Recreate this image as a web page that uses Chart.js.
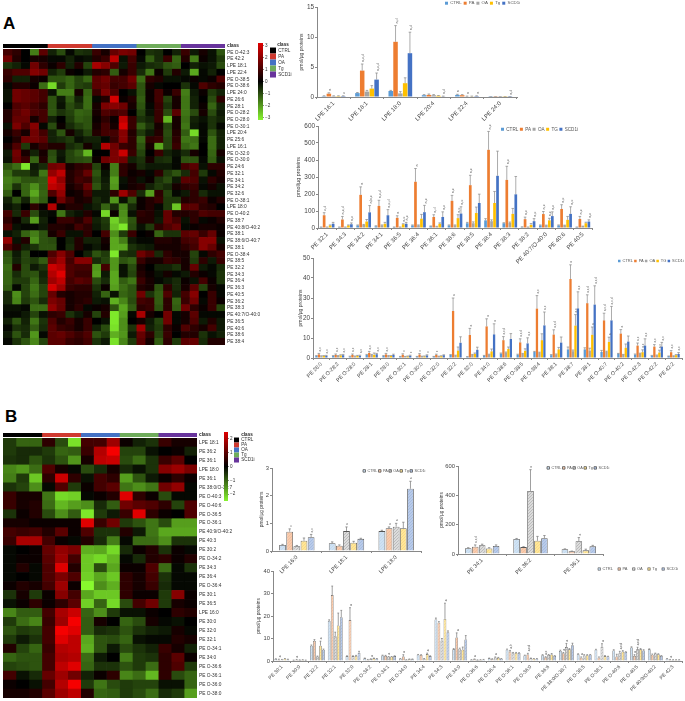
<!DOCTYPE html>
<html>
<head>
<meta charset="utf-8">
<title>Lipid panels</title>
<script src="https://cdn.jsdelivr.net/npm/chart.js@4/dist/chart.umd.min.js"></script>
<style>
    html, body { margin: 0; padding: 0; background: #fff; }
    #page { position: relative; width: 685px; height: 701px; overflow: hidden; }
    #page canvas { position: absolute; }
    .letter { position: absolute; font: bold 17px "Liberation Sans", sans-serif; color: #000; }
</style>
</head>
<body>
<div id="page">
    <div class="letter" style="left:3px;top:14px">A</div>
    <div class="letter" style="left:5px;top:407px">B</div>
</div>
<script>
// class names
const classNames = ["CTRL", "PA", "OA", "Tg", "SCD1i"];
const classNamesUpper = ["CTRL", "PA", "OA", "TG", "SCD1i"];
const heatAClassSizes = [5, 5, 5, 5, 5];
const heatBClassSizes = [3, 3, 3, 3, 3];
const heatAScaleTicks = [3, 2, 1, 0, -1, -2, -3];
const heatBScaleTicks = [2, 1, 0, -1, -2];

// Heatmap A
const heatALabels = ["PE O-42:3", "PE 42:2", "LPE 18:1", "LPE 22:4", "PE O-38:5", "PE O-38:6", "LPE 24:0", "PE 26:6", "PE 28:1", "PE O-28:2", "PE O-28:0", "PE O-30:1", "LPE 20:4", "PE 25:6", "LPE 16:1", "PE O-32:0", "PE O-30:0", "PE 24:6", "PE 32:1", "PE 34:1", "PE 34:2", "PE 32:6", "PE O-38:1", "LPE 18:0", "PE O-40:2", "PE 38:7", "PE 40:8/O-40:2", "PE 38:1", "PE 38:6/O-40:7", "PE 38:1", "PE O-38:4", "PE 38:5", "PE 32:2", "PE 34:3", "PE 36:4", "PE 36:3", "PE 40:5", "PE 36:2", "PE 38:3", "PE 40:7/O-40:0", "PE 36:5", "PE 40:6", "PE 38:6", "PE 38:4"];
const heatARows = [
    [.6,.4,0,-1.5,.8,-.4,-.9,-.1,-.6,-.5,.5,.2,.9,1.1,1,0,-.6,-.5,0,-.4,.5,-.3,.2,-.2,-1],
    [1,.3,0,.2,.2,-.1,-.1,-.4,-.1,-.2,.3,.5,1.7,-.2,.6,-.1,-1.1,-.5,.5,-1.2,.3,-1.5,.1,-.2,-.7],
    [-.6,-.4,-.1,1,.4,.1,.4,-.4,.3,-.8,1.5,1.2,.7,-.3,.5,-.3,-.5,-.6,-1,-1.1,0,-.4,-.2,-.3,-.9],
    [.5,.7,.7,1.2,1,-.4,-.7,.1,0,-.3,.3,.4,-1.1,.2,.5,-.5,-1.4,.1,-.7,.3,-.3,-2,-.1,-.4,0],
    [.4,-.4,-.4,.2,.1,-1,-1,-1.2,-.8,-1.2,.8,1,.6,.6,1,-1.3,.4,.3,-.2,-.2,-.1,.1,-.1,.1,.7],
    [-.1,.3,.3,.1,-1.3,-2.6,-.7,-1.2,-.8,-.7,.8,.9,.5,.6,.8,-1,.2,-.1,0,0,-.6,-.1,.7,.4,.3],
    [-.2,1,.9,.8,.6,-.2,-1.5,-1.5,.2,-1.2,.5,1.1,.7,0,-.2,-1,.1,.6,.1,.5,-1.5,-.3,.1,-.7,-.4],
    [-.2,1,.9,.8,.6,-1,-.3,-1.1,-.4,-1.3,-.1,.3,1.9,.1,.3,-1.1,.1,.6,-.8,.2,-1.4,-.4,0,-.9,.4],
    [0,.7,.8,.6,.4,-1,-.2,-.9,-.6,-1.3,.2,1.1,1.2,1,.2,-1,-.1,.5,-.6,.2,-1.4,-.4,.1,-1.2,-.4],
    [.3,.8,1,.7,.6,-1,-.6,-.8,-1.2,-1.1,.2,.7,.6,.7,0,-.8,-.2,.5,-.9,.8,-1.4,-.9,.2,-.9,-.3],
    [.3,.9,.9,.2,.6,-.4,0,-.7,-1.1,-1,.1,.4,.1,1.7,.5,-.6,-.4,.5,-2.2,.2,-1.3,-.4,-.2,-.6,-.4],
    [-.2,1.1,.7,1.2,-.1,-.9,.1,-.5,-.8,-1,.2,.6,.2,1.9,.5,-1.1,-.6,.2,-.8,.2,-1.4,-.3,-.1,-.6,-.1],
    [.2,.5,.2,1,.6,-.4,-1,.2,-.4,-.8,.3,.6,.6,1.2,.3,-.7,-.3,.3,-.9,.3,-1.1,-2.6,-.1,-1,-.4],
    [0,.3,1,1,.8,-.4,-.5,-.7,-.2,-.4,-.4,-.1,.5,1.2,.4,-1.2,.4,.5,-.8,.4,-1.4,-1.3,-.1,-1.3,-.4],
    [.2,.7,-.7,.2,.5,.3,.3,-.5,-.7,.2,-.3,1.6,1,.5,.4,-1,.2,-2,-.8,.5,-1.2,-1.4,0,-1.3,-.4],
    [-.3,1,.2,-.4,.2,-.9,-.3,-.8,-1.1,-2.2,0,0,1.1,1.8,.5,-.8,0,.5,-.4,-.2,-.5,.2,0,-1.2,.2],
    [-.2,.9,.5,-1.2,.3,-1,-.2,-.8,-.9,-1,.1,1,1.1,1,-.4,-.6,.2,-.5,-.6,-.1,-1,-1,-.1,-1.1,-.2],
    [-1,-1.3,-2.8,-.3,-.5,1,1.1,.2,.4,.5,-.8,.1,-1.5,.4,.2,-.5,-.3,-.3,-.3,-.1,.6,.8,-.2,.4,.4],
    [-1.3,-.7,-.7,-.4,-1.4,1.3,1.7,.3,.5,.9,-1,-.2,-1.5,.4,.1,.2,-.1,.4,-.7,-1,-.5,.6,-.7,-.1,.3],
    [-1.5,-1.3,-1,-1,-1.1,1.9,1.3,.3,.6,.5,-.8,-.3,-1.9,-.2,.2,-.2,.1,-.6,-.9,-.3,.8,.7,-.2,.4,.2],
    [-1.4,-.6,-1.2,-1.7,-1.1,1.7,1.5,.2,.4,.9,-1,-.4,-1.8,-.1,.2,.3,-.4,-.7,-.5,.2,.4,.5,-.1,.2,-.2],
    [-1.1,0,-1.2,-2,-1.2,.7,1.3,.1,.2,.6,-.3,-.3,.4,1.4,.7,-.5,-1.9,.4,-.8,-.1,-.3,.4,-.5,-.2,-.2],
    [-.4,-1,-.4,-1.5,-1.1,0,1,.5,.2,.3,-.5,-.3,-1.8,-.2,-1,.1,.3,.5,-.7,-.7,.3,.4,.5,.1,.3],
    [-.2,-.4,0,.4,.1,1.6,.1,.3,.3,-.2,-.4,-1.2,-.5,-1.6,-.5,.1,.3,-.1,-.7,-2.4,.8,.8,.4,.3,0],
    [.6,-.5,.5,-.9,-.2,-.1,-1.4,-.4,-.2,.3,-.1,-2.6,.1,-1.7,-.2,.4,.3,-.2,.9,.3,.3,.4,.7,.6,.6],
    [.4,.1,-.5,-1.9,-.4,0,.5,.5,.3,.7,-.4,-.7,-2.5,-1.8,-1,.3,.3,-.3,.9,.6,-.2,.4,-.1,.1,.3],
    [.7,-.2,-.1,-.1,-.3,.3,.3,.2,.6,.4,-.3,-.6,-2.3,-2.8,-.9,-.2,-.7,.4,.7,.9,-.1,.1,.2,.2,.1],
    [-.2,-.4,-1.2,-1.5,-1,.2,.5,-.2,-.2,.4,0,.6,-1.7,-.7,.5,0,.1,-1.2,-.6,-.6,.8,.9,.5,.9,.1],
    [1.3,-.2,.3,-1.7,-1,-.9,0,-.4,.3,-.4,-.4,.2,-2,-1.5,-.3,-.1,-.1,.3,.3,.2,.6,.7,1.2,1.2,-.2],
    [.7,.3,-.4,-.6,-1,-1,0,-.5,.3,-.1,-.3,.1,-2,-2,-.6,-.4,-.3,.2,.2,.2,.4,.6,1.2,.9,.2],
    [-1,-.3,-.8,0,0,.7,1.2,.7,0,-.4,-1,-.7,-2.8,-.6,-.5,1,.7,-.5,.4,.2,.2,-.8,-.1,.4,.6],
    [-1.1,-.4,-.8,-.7,-1.1,1,1.4,.6,1.2,1.2,-.5,-.8,-1.8,-1,-1.2,.5,.2,.2,.5,.4,.2,-.7,.4,-.3,.5],
    [-1.3,.3,-.9,-.3,-.6,1.8,1.6,.7,.6,.6,-1.8,.6,-1.8,-.2,-.9,.2,0,-.4,-.4,-.6,.2,.9,-.3,-.1,-.5],
    [-1.2,-.5,-.9,-1,-.4,1.6,2,.7,.5,.5,-1.9,-.3,-2,-.2,-.8,.3,.1,-.2,.2,-.1,-.3,.3,.1,-.1,-.6],
    [-1.2,-.7,-.7,-1.2,-.5,1.4,1.7,.6,.8,.7,-.9,-.5,-2,-1.1,-1.4,.5,.2,-.1,-.3,-.5,.1,-.2,.6,.1,-.6],
    [-1.1,-.1,-.8,-1.4,-.8,1.9,1.4,.5,.4,.4,-.6,.1,-1.9,-1.3,-1,.3,.2,-1,.4,-.5,.2,.8,-.8,.2,-.1],
    [-.5,-1.7,-.8,-1.3,-.8,.9,.3,.2,.3,.3,-.4,-1.2,-.2,-1.2,-1,1,-.6,-1.1,.7,-.4,.6,1.2,0,.5,-.1],
    [-.5,-1.6,-.7,-1,-.5,1.1,.9,.2,.3,.4,-.3,-.2,-2.1,-1.6,-.9,.6,.5,-1.1,.4,-1.2,.5,1,-.1,.5,.1],
    [-.2,-.2,-.1,-1.3,-1.3,1.3,.9,.2,.4,-.1,.1,.2,-1,-2,-1.1,.4,.5,-1,.4,-1.1,1,.4,.1,.5,-.8],
    [-.1,-.1,-.3,-.8,-.2,.4,.5,-.6,-.3,.2,-.8,.3,-2.8,-1.9,-.1,1.5,.2,0,1,-.1,.2,.8,-.1,-.1,-.1],
    [-.4,-1,-.4,-1.4,-.6,.7,.3,.5,.2,.5,0,-.2,-2.8,-1.7,0,.2,-.3,-.8,1,-.1,.2,.7,-.3,.3,-.3],
    [-.1,-.6,-.5,-1.1,-.5,.8,.5,.4,.2,.5,-.4,-.9,-2.7,-1.7,-.6,1.4,-.4,-.7,.4,.1,.7,.4,.2,.6,-.3],
    [-.3,-1,-.5,-1.8,-.1,.8,.9,.7,.5,.7,-1,-.7,-2.1,-1.8,-.3,.9,.4,-.8,.5,0,.3,.3,-.6,-.2,-.4],
    [-.1,-.6,-1,-1.6,-.8,.8,.8,.5,.4,.6,-.6,-.3,-2.7,-1.6,-.7,.8,.2,-1.1,.4,-.7,.8,.9,-.5,.3,.3]
];

// Heatmap B
const heatBLabels = ["LPE 18:1", "PE 36:2", "PE 36:1", "LPE 18:0", "PE 36:1", "PE 38:0/O-38:7", "PE O-40:3", "PE O-40:6", "PE O-36:5", "PE O-36:1", "PE 40:9/O-40:2", "PE 40:3", "PE 30:2", "PE O-34:2", "PE 34:3", "PE 36:4", "PE O-36:4", "PE 30:1", "PE 36:5", "LPE 16:0", "PE 30:0", "PE 32:0", "PE 32:1", "PE O-34:1", "PE 34:0", "PE O-36:6", "PE O-36:1", "PE O-36:0", "PE O-38:0"];
const heatBRows = [
    [-.7,-1.2,-1.2,.4,-.9,-2.7,.6,.6,1.4,.1,-.4,-.6,.5,.2,.2],
    [-.7,-.5,-.5,-.7,-1.2,-1.1,.5,1.6,2.2,-.8,-.8,-.2,0,.1,-.4],
    [-.6,-.5,-1,-.6,-1,-1.8,.2,1.7,1.8,-.9,-1.3,-.6,.5,.8,0],
    [-1.6,-1.8,-1.3,.7,.2,-.1,-.9,-.5,.2,-.5,-.2,-.6,1.2,1.4,1.1],
    [-1.5,-.7,-2.4,.4,1.8,.4,-.2,.6,.4,-1.9,-1,-.3,.1,.4,.1],
    [-.6,-.8,-1.7,-.1,.7,-.7,.1,.6,.8,-1.4,-1.7,-1.4,1,1.3,-.1],
    [.5,.2,.2,-1.4,-2.6,-2.5,-.1,.1,.3,2,.4,.1,-.9,-.1,-.1],
    [.5,.2,.3,-1.3,-2.2,-1.9,-1.7,-.5,-1.1,1,.8,.7,.4,-.8,.7],
    [-.6,.1,.3,-.9,-1.7,-1.1,-2.8,-.7,-.3,.5,2,.4,.1,0,.7],
    [.2,.2,.1,.1,.1,.1,2,.5,1,-.7,-1,-1.4,-.9,-1.9,-1.9],
    [.6,.5,.6,.3,.8,.1,.7,-.6,-.6,.3,-.3,-1.4,-2,-2,-2],
    [.5,1.5,1.5,.6,.1,-.1,.3,-.5,-1.5,-.1,-1.3,-1.3,-1.7,-.6,-.6],
    [-.1,0,.1,.9,1.3,1.1,-2.1,-2,-2.6,-.5,.1,.3,-.6,.1,-.1],
    [-.1,.1,.1,.8,1.4,.6,-2.4,-2.6,-2.2,-.1,-.5,.3,.4,.1,.3],
    [-.1,.3,-.1,.7,2,.3,-2.4,-.9,-2,.1,.1,.7,-1.3,-.1,-.6],
    [-.1,0,-.1,.7,1.1,.7,-2.5,-2,-2.4,.4,.2,.6,-.6,-.1,-.1],
    [.1,.3,.2,.6,1.4,.1,-3,-1.7,-2.1,.4,.2,.5,-.5,-.1,-.1],
    [-.6,.2,-.7,.1,1.2,.6,-2,-2.4,-2.4,.4,.1,.1,-.7,1.2,.1],
    [-.2,.1,.4,.1,.4,.8,-2.5,-1.2,-2.6,-.9,.6,1,-.7,.2,.1],
    [-1.6,-1.1,-1.1,.6,1.5,1.8,-1.2,-1.7,-.7,-.2,-.2,.1,0,.4,.3],
    [-.7,-1.3,-1.6,.5,1.4,2.2,-1.1,.2,0,-1.2,-.9,.2,-.1,-.2,0],
    [-1,-.7,-.8,.6,2.2,2,-1.1,-.5,-.6,-1,-.6,-.4,-.3,.2,-.1],
    [-.7,-.3,-.6,.6,2,1.7,-2,-1,-.9,-1.2,-.2,-.1,-.1,.3,.2],
    [.3,-.8,-1.2,.5,1.6,1.7,-2.1,-1,-.3,-.9,-.6,-.4,.5,.2,-.4],
    [-1.2,-1,-1,.6,1.5,1.6,-1.3,-.3,0,-1.5,-.7,-.6,.4,.8,.1],
    [-.8,-.9,-1,.6,1.7,2,-1.2,-.6,-.6,-1,-.7,-1.3,.4,.7,-.7],
    [.6,-.2,-.5,.9,1.4,1,-.4,.1,.4,-1.6,-1.3,-2.2,.4,-.9,-1.2],
    [.1,0,-.2,.6,1.6,2.2,-.7,-1.4,-.9,-.7,-.8,-.8,-.2,-.2,-1.2],
    [.2,.2,.3,.8,1.4,1.7,.3,-1.2,-1.1,-.7,-.9,-1.3,-.5,-.7,-1.9]
];

// Panel A, top bars
const a1Labels = ["LPE 16:1", "LPE 18:1", "LPE 18:0", "LPE 20:4", "LPE 22:4", "LPE 24:0"];
const a1Ctrl = [.15, .65, 1, .3, .35, .03];
const a1Pa = [.55, 4.4, 9.2, .35, .3, .03];
const a1Oa = [.15, .9, .6, .3, .1, .03];
const a1Tg = [.15, 1.4, 2.3, .2, .1, .03];
const a1Scd = [.15, 2.9, 7.3, .1, .15, .03];
const a1CtrlErr = [.05, .1, .1, .1, .1, 0];
const a1PaErr = [.15, 1.1, 2.7, .15, .1, 0];
const a1OaErr = [.05, .2, .3, .1, .05, 0];
const a1TgErr = [.05, .5, .9, .05, .05, 0];
const a1ScdErr = [.05, 1.1, 3.5, .05, .05, 0];
const a1CtrlSig = ["", "", "", "", "a", ""];
const a1PaSig = ["a", "a,c,d", "a,d", "", "", ""];
const a1OaSig = ["", "", "", "", "a", ""];
const a1ScdSig = ["c", "a,c,d", "a,d", "a,d", "a", "a,d"];

// Panel A, middle bars
const a2Labels = ["PE 32:1", "PE 34:3", "PE 34:2", "PE 34:1", "PE 36:5", "PE 36:4", "PE 36:1", "PE 38:6", "PE 38:5", "PE 38:4", "PE 38:3", "PE 38:2", "PE 40:7/O-40:0", "PE 40:6", "PE 40:5"];
const a2Ctrl = [5, 5, 15, 10, 5, 15, 10, 15, 28, 45, 28, 5, 15, 15, 5];
const a2Pa = [75, 50, 195, 130, 60, 272, 65, 160, 252, 460, 283, 52, 82, 112, 53];
const a2Oa = [5, 5, 18, 15, 5, 15, 8, 15, 28, 40, 30, 5, 15, 15, 10];
const a2Tg = [15, 15, 38, 25, 22, 55, 25, 58, 88, 147, 83, 18, 45, 48, 28];
const a2Scd = [25, 22, 92, 75, 25, 93, 65, 85, 147, 307, 198, 40, 70, 83, 38];
const a2CtrlErr = [1, 1, 3, 3, 1, 3, 2, 3, 5, 10, 3, 2, 3, 3, 1];
const a2PaErr = [15, 18, 47, 33, 12, 78, 13, 32, 58, 108, 80, 12, 15, 25, 15];
const a2OaErr = [1, 1, 3, 3, 1, 3, 2, 3, 8, 8, 5, 1, 2, 2, 1];
const a2TgErr = [3, 3, 12, 8, 3, 25, 5, 20, 35, 68, 32, 8, 12, 20, 6];
const a2ScdErr = [8, 8, 40, 33, 8, 40, 30, 40, 52, 145, 105, 15, 25, 42, 10];
const a2PaSig = ["c,d", "a,c,d", "a", "a,c,d", "a", "a", "a,d", "a,c", "a,c", "a,c", "a,c", "a,c", "a,c", "a,c", "a,c"];
const a2TgSig = ["", "", "", "", "a,c", "", "", "a,c", "", "", "", "", "a,c", "", ""];
const a2ScdSig = ["", "a,c", "a,b,c", "a,c,d", "a,c", "a,c", "a,c", "a,c", "", "", "", "a,c", "a,c", "a,c", "a,c"];

// Panel A, bottom bars
const a3Labels = ["PE 26:0", "PE O-28:2", "PE O-28:0", "PE 28:1", "PE 28:0", "PE O-30:1", "PE O-30:0", "PE O-32:0", "PE 32:2", "PE 32:0", "PE 34:0", "PE O-38:6", "PE O-38:5", "PE O-38:4", "PE 38:1", "PE 38:7", "PE 38:1", "PE O-40:7", "PE O-40:2", "PE O-42:3", "PE O-42:2", "PE 42:2"];
const a3Ctrl = [1, 1, .7, 1.5, 1, .7, .7, .7, 1.5, .6, 1.1, 2.2, 1.6, 3, 1.4, 4.3, 4.3, 3, 2.1, 1.7, 1.1, .9];
const a3Pa = [1.8, 1.5, 1.5, 2.5, 1.8, 1.6, 1.7, 1.5, 23.5, 11.5, 15.8, 8.9, 7.8, 24.7, 11.7, 39.5, 27.4, 18.8, 12.2, 6.2, 5.7, 2.9];
const a3Oa = [.9, 1, .8, 1.5, 1, .7, .8, .8, 1.2, 1.5, 1.7, 2.7, 2, 2.6, 1.7, 3.4, 3.7, 3.1, 1.6, 2.2, 1.3, 1];
const a3Tg = [1, 1.3, 1, 1.6, 1, .8, .8, .9, 3.7, 2, 3.3, 4.5, 3.6, 8.9, 4.3, 16.2, 11.6, 8, 5.1, 2.9, 2.7, 1.4];
const a3Scd = [1, 1.4, 1.1, 1.9, 1.5, 1.1, 1.3, 1.4, 7.6, 4.1, 11.8, 9.5, 7.3, 16.3, 7.7, 24.8, 26.7, 18.8, 8.2, 6.2, 5.7, 2];
const a3CtrlErr = [.2, .2, .2, .3, .2, .1, .1, .1, .2, .1, .2, .3, .3, .3, .3, 1.2, .8, .8, .2, .3, .2, .1];
const a3PaErr = [.5, .5, .5, .8, .5, .5, .5, .4, 6.5, 3.3, 3.8, 1.8, 1.8, 6.5, 2.4, 7.1, 4.2, 3.6, 2, 1.3, 1, .8];
const a3OaErr = [.2, .2, .2, .3, .2, .1, .1, .1, .2, .3, .2, .3, .3, .3, .3, .6, 1.2, .3, .2, .2, .2, .1];
const a3TgErr = [.2, .3, .3, .9, .2, .2, .2, .2, 1.8, .5, 1.2, 1, 1, 3.2, 1, 5.5, 3.9, 2.4, 1.9, 1.2, 1.2, .3];
const a3ScdErr = [.3, .4, .3, .4, .4, .3, .3, .2, 3, 1.3, 5.3, 2.7, 2.8, 6.7, 2.8, 8.3, 9.4, 7, 2.8, 3.4, 2.1, .7];
const a3PaSig = ["a,c", "a,c", "a,c", "a,c", "a,c", "c", "c", "c", "a", "a", "a", "a,c,d", "a,c,d", "a,c", "a,c,d", "a", "a,c,d", "a,c,d", "a", "a,c", "a,c", "a,c"];
const a3TgSig = ["", "", "", "", "", "", "", "", "", "", "", "", "", "", "", "a,c", "a", "a", "", "a,c", "a,c", ""];
const a3ScdSig = ["a,c", "a,c", "a,c", "a,c", "", "c", "c", "", "", "", "a", "", "a,c", "a,c", "", "a,c", "a,c,d", "a,c,d", "", "a,c", "a,c", "a,c"];

// Panel B, left bars
const b1Labels = ["LPE 16:0", "LPE 18:1", "LPE 18:0"];
const b1Ctrl = [.22, .28, .72];
const b1Pa = [.7, .19, .82];
const b1Oa = [.17, .72, .88];
const b1Tg = [.37, .3, .82];
const b1Scd = [.5, .44, 2.25];
const b1CtrlErr = [.02, .05, .03];
const b1PaErr = [.1, .03, .05];
const b1OaErr = [.03, .15, .12];
const b1TgErr = [.1, .05, .22];
const b1ScdErr = [.1, .02, .27];
const b1PaSig = ["c", "", "a"];
const b1OaSig = ["", "a", "a"];
const b1ScdSig = ["a,c", "", "a"];

// Panel B, right bars
const b2Labels = ["PE 34:1", "PE 36:2", "PE 36:1"];
const b2Ctrl = [40, 103, 32];
const b2Pa = [50, 47, 18];
const b2Oa = [60, 430, 87];
const b2Tg = [38, 90, 25];
const b2Scd = [55, 108, 52];
const b2CtrlErr = [3, 3, 3];
const b2PaErr = [12, 3, 2];
const b2OaErr = [7, 145, 25];
const b2TgErr = [5, 30, 8];
const b2ScdErr = [7, 18, 7];
const b2PaSig = ["a,c,d", "", ""];
const b2OaSig = ["", "a", "a"];

// Panel B, bottom bars
const b3Labels = ["PE 30:1", "PE 30:0", "PE 32:2", "PE 32:1", "PE 32:0", "PE O-34:2", "PE O-34:1", "PE O-34:0", "PE 34:4", "PE 34:3", "PE 34:0", "PE O-36:6", "PE O-36:4", "PE O-36:1", "PE O-36:0", "PE 36:6", "PE 38:0/O-38:7", "PE O-38:5", "PE O-38:1", "PE O-40:6", "PE O-40:5", "PE 40:9/O-40:2", "PE 42:3"];
const b3Ctrl = [.9, .3, 6.8, 17.8, 2.2, 1.2, 2.5, 1, 2.8, 18.5, 5.2, .5, 1.2, 5, 2.5, 2.6, 4.5, 3, 5, 4.7, 6, 5.2, 1];
const b3Pa = [.5, .5, 8.9, 29.3, 18.2, .5, 2.3, 2, 2.7, 17, 10.5, .8, .8, 4.2, 2.9, 1.7, 3.5, 1.5, 1.5, 2, 2.3, 2.8, .5];
const b3Oa = [.6, .4, 2, 11, 2.2, .9, 1.9, .5, 1, 9, 5.5, .4, 1.6, 3.5, 1.2, 2.7, 6.2, 2.5, 6.3, 3.5, 5.2, 3.3, .5];
const b3Tg = [1, .5, 6.8, 15.8, 2.3, 1.2, 1.9, .8, 3.1, 18.7, 5, .5, 1.4, 3.6, 1, 2.9, 5.2, 2.6, 2.2, 4.2, 5.2, 3, .5];
const b3Scd = [.7, .3, 5, 19.5, 3.6, 1, 2.2, .8, 2.2, 12.8, 9.6, .6, 1, 3.6, 1, 2.3, 7, 2.8, 2, 4, 4.7, 2.3, .5];
const b3CtrlErr = [.1, .1, .3, .5, .1, .1, .1, .1, .1, .6, .3, .1, .1, .3, .1, .2, .3, .2, .2, .3, .3, .2, .1];
const b3PaErr = [.3, .2, .6, 4, 5.5, .2, .2, .8, .1, .5, 2, .1, .2, .5, .5, .2, .3, .3, .3, 1, .5, .3, .2];
const b3OaErr = [.1, .1, .2, 1.8, .1, .1, .1, .1, .1, 1, .2, .1, .2, .3, .1, .2, 1.6, .3, 1.4, .8, .9, .2, .1];
const b3TgErr = [.1, .1, 2, 5.5, .2, .1, .1, .1, .4, 7, 1.2, .1, .2, .2, .1, .4, .3, .2, .2, .4, .3, .2, .1];
const b3ScdErr = [.1, .1, .3, 3, .7, .1, .1, .1, .1, .6, 1.7, .1, .1, .1, .1, .1, .9, .1, .1, .1, .3, .1, .1];
const b3PaSig = ["a", "a", "", "", "a", "", "", "a", "", "", "a", "a", "", "a,b", "a,c,d", "a,c", "a", "a", "", "", "a", "", "a"];
const b3OaSig = ["", "", "", "", "", "a", "a", "", "", "", "", "", "a", "", "", "", "a", "", "a", "a,c,d", "a,c,d", "", ""];
const b3TgSig = ["", "", "a", "", "", "", "", "", "a", "a", "", "", "", "", "", "", "", "", "", "", "", "", ""];

const unitTitle = "pmol/\u00b5g proteins";
const plainColors = ["#5b9bd5", "#ed7d31", "#a5a5a5", "#ffc000", "#4472c4"];
const classColors = ["#000000", "#cf3a30", "#4472c4", "#6fac5b", "#68349c"];
const fontName = '"Liberation Sans", sans-serif';

const page = document.getElementById("page");

function makeCanvas(left, top, width, height) {
    const canvas = document.createElement("canvas");
    canvas.width = width;
    canvas.height = height;
    canvas.style.left = left + "px";
    canvas.style.top = top + "px";
    canvas.style.width = width + "px";
    canvas.style.height = height + "px";
    page.appendChild(canvas);
    return canvas;
}

function heatColor(v) {
    if (v >= 0) {
        return "rgb(" + Math.min(255, Math.round(v * 112)) + ",0,0)";
    }
    const k = Math.min(1, -v / 3);
    return "rgb(" + Math.round(k * 135) + "," + Math.round(k * 250) + "," + Math.round(k * 45) + ")";
}

function hatch(fill, line) {
    const c = document.createElement("canvas");
    c.width = 3;
    c.height = 3;
    const g = c.getContext("2d");
    g.fillStyle = fill;
    g.fillRect(0, 0, 3, 3);
    g.strokeStyle = line;
    g.lineWidth = 0.5;
    g.beginPath();
    g.moveTo(0, 3);
    g.lineTo(3, 0);
    g.stroke();
    return g.createPattern(c, "repeat");
}

// error whiskers and the small letters above them
const whiskers = {
    id: "whiskers",
    afterDatasetsDraw(chart, args, opts) {
        const ctx = chart.ctx;
        const y = chart.scales.y;
        chart.data.datasets.forEach((ds, i) => {
            const bars = chart.getDatasetMeta(i).data;
            bars.forEach((bar, k) => {
                const top = y.getPixelForValue(ds.data[k] + ds.errors[k]);
                ctx.save();
                ctx.strokeStyle = opts.color;
                ctx.lineWidth = opts.width;
                ctx.beginPath();
                ctx.moveTo(bar.x, bar.y);
                ctx.lineTo(bar.x, top);
                ctx.moveTo(bar.x - opts.cap, top);
                ctx.lineTo(bar.x + opts.cap, top);
                ctx.stroke();
                const sig = ds.sig && ds.sig[k];
                if (sig) {
                    ctx.translate(bar.x + 1, top - 2);
                    ctx.rotate(-Math.PI / 2);
                    ctx.fillStyle = "#555";
                    ctx.font = opts.sigSize + "px " + fontName;
                    ctx.textAlign = "left";
                    ctx.fillText(sig, 0, 0);
                }
                ctx.restore();
            });
        });
    }
};

// the legends sit on the plots, not above them
const legendAt = {
    id: "legendAt",
    afterLayout(chart, args, opts) {
        const legend = chart.legend;
        legend.left = opts.x;
        legend.right = chart.width + 40;
        legend.top = opts.y;
        legend.bottom = opts.y + 30;
    }
};

function series(name, values, errors, sig, color) {
    return { label: name, data: values, errors: errors, sig: sig, backgroundColor: color };
}

function barPanel(box, labels, sets, look) {
    const padTop = 9;
    const padRight = 20;
    const axisWidth = box.plotLeft - box.left;
    const labelRoom = 36;
    const top = box.plotTop - padTop - 1;
    const canvas = makeCanvas(box.left, top, box.plotRight + padRight - box.left, box.plotBottom + labelRoom - top);

    sets.forEach(ds => {
        ds.borderColor = look.barBorder;
        ds.borderWidth = look.barBorderWidth;
        ds.barPercentage = look.barPct;
        ds.categoryPercentage = look.catPct;
    });

    return new Chart(canvas, {
        type: "bar",
        data: { labels: labels, datasets: sets },
        plugins: [whiskers, legendAt],
        options: {
            responsive: false,
            animation: false,
            devicePixelRatio: 1,
            layout: { padding: { top: padTop, right: padRight } },
            plugins: {
                tooltip: { enabled: false },
                legend: {
                    position: "top",
                    align: "start",
                    maxHeight: 1,
                    labels: {
                        boxWidth: look.boxSize,
                        boxHeight: look.boxSize,
                        padding: look.legendGap,
                        color: "#555",
                        font: { size: look.legendSize, family: fontName }
                    }
                },
                legendAt: { x: box.legendLeft - box.left - look.legendGap, y: box.legendY - top - look.legendGap - 2 },
                whiskers: { color: look.errColor, width: look.errWidth, cap: look.cap, sigSize: look.sigSize }
            },
            scales: {
                x: {
                    border: { color: "#888" },
                    grid: { drawOnChartArea: false, tickLength: 2, color: "#888" },
                    ticks: {
                        autoSkip: false,
                        minRotation: 45,
                        maxRotation: 45,
                        padding: 1,
                        color: "#444",
                        font: { size: look.tickSize, family: fontName }
                    },
                    afterFit(s) {
                        s.height = labelRoom;
                        s.paddingLeft = 0;
                        s.paddingRight = 0;
                    }
                },
                y: {
                    min: 0,
                    max: look.yMax,
                    border: { color: "#888" },
                    grid: { drawOnChartArea: false, tickLength: 2, color: "#888" },
                    ticks: {
                        stepSize: look.yStep,
                        padding: 1,
                        color: "#444",
                        font: { size: look.yTickSize, family: fontName }
                    },
                    title: {
                        display: true,
                        text: unitTitle,
                        color: "#444",
                        padding: 0,
                        font: { size: look.titleSize, family: fontName }
                    },
                    afterFit(s) {
                        s.width = axisWidth;
                        s.paddingTop = 0;
                        s.paddingBottom = 0;
                    }
                }
            }
        }
    });
}

function heatPanel(left, top, plotWidth, height, labels, rows, labelWidth) {
    const canvas = makeCanvas(left, top, plotWidth + labelWidth, height);
    const columns = rows[0].map((_, c) => ({
        data: rows.map(() => 1),
        backgroundColor: rows.map(r => heatColor(r[c])),
        borderWidth: 0,
        barPercentage: 1,
        categoryPercentage: 1
    }));
    return new Chart(canvas, {
        type: "bar",
        data: { labels: labels, datasets: columns },
        options: {
            indexAxis: "y",
            responsive: false,
            animation: false,
            devicePixelRatio: 1,
            plugins: { legend: { display: false }, tooltip: { enabled: false } },
            scales: {
                x: { display: false, stacked: true, min: 0, max: rows[0].length },
                y: {
                    stacked: true,
                    position: "right",
                    border: { display: false },
                    grid: { display: false, drawTicks: false },
                    ticks: {
                        autoSkip: false,
                        padding: 2,
                        color: "#333",
                        font: { size: 4.8, family: fontName }
                    },
                    afterFit(s) {
                        s.width = labelWidth;
                        s.paddingTop = 0;
                        s.paddingBottom = 0;
                    }
                }
            }
        }
    });
}

function classBar(left, top, plotWidth, barHeight, sizes, labelWidth) {
    const canvas = makeCanvas(left, top - 2, plotWidth + labelWidth, barHeight + 4);
    return new Chart(canvas, {
        type: "bar",
        data: {
            labels: ["class"],
            datasets: classNames.map((name, i) => ({
                label: name,
                data: [sizes[i]],
                backgroundColor: classColors[i],
                borderWidth: 0,
                barPercentage: 1,
                categoryPercentage: 1
            }))
        },
        options: {
            indexAxis: "y",
            responsive: false,
            animation: false,
            devicePixelRatio: 1,
            layout: { padding: { top: 2, bottom: 2 } },
            plugins: { legend: { display: false }, tooltip: { enabled: false } },
            scales: {
                x: { display: false, stacked: true, min: 0, max: sizes.reduce((a, b) => a + b, 0) },
                y: {
                    stacked: true,
                    position: "right",
                    border: { display: false },
                    grid: { display: false, drawTicks: false },
                    ticks: {
                        padding: 2,
                        color: "#222",
                        font: { size: 4.8, weight: "bold", family: fontName }
                    },
                    afterFit(s) {
                        s.width = labelWidth;
                        s.paddingTop = 0;
                        s.paddingBottom = 0;
                    }
                }
            }
        }
    });
}

function colorBar(left, top, barWidth, height, range, tickValues) {
    const canvas = makeCanvas(left, top, barWidth + 12, height);
    const fade = canvas.getContext("2d").createLinearGradient(0, 0, 0, height);
    fade.addColorStop(0, "#e00000");
    fade.addColorStop(0.5, "#000000");
    fade.addColorStop(1, "#88f530");
    return new Chart(canvas, {
        type: "bar",
        data: {
            labels: [""],
            datasets: [{
                data: [[-range, range]],
                backgroundColor: fade,
                borderWidth: 0,
                barPercentage: 1,
                categoryPercentage: 1
            }]
        },
        options: {
            responsive: false,
            animation: false,
            devicePixelRatio: 1,
            plugins: { legend: { display: false }, tooltip: { enabled: false } },
            scales: {
                x: { display: false },
                y: {
                    position: "right",
                    min: -range,
                    max: range,
                    border: { display: false },
                    grid: { drawOnChartArea: false, tickLength: 1, color: "#888" },
                    afterBuildTicks(s) {
                        s.ticks = tickValues.map(v => ({ value: v }));
                    },
                    ticks: {
                        padding: 1,
                        color: "#333",
                        font: { size: 4.6, family: fontName },
                        callback: v => String(v).replace("-", "\u2212")
                    },
                    afterFit(s) {
                        s.width = 12;
                        s.paddingTop = 0;
                        s.paddingBottom = 0;
                    }
                }
            }
        }
    });
}

function classLegend(left, top, width, height, box) {
    const canvas = makeCanvas(left, top, width, height);
    return new Chart(canvas, {
        type: "bar",
        data: {
            labels: [],
            datasets: classNames.map((name, i) => ({ label: name, data: [], backgroundColor: classColors[i], borderWidth: 0 }))
        },
        options: {
            responsive: false,
            animation: false,
            devicePixelRatio: 1,
            plugins: {
                tooltip: { enabled: false },
                legend: {
                    position: "left",
                    align: "start",
                    maxWidth: width,
                    title: {
                        display: true,
                        text: "class",
                        color: "#222",
                        padding: 0,
                        font: { size: 4.6, weight: "bold", family: fontName }
                    },
                    labels: {
                        boxWidth: box,
                        boxHeight: box,
                        padding: 0,
                        color: "#333",
                        font: { size: 4.6, family: fontName }
                    }
                }
            },
            scales: { x: { display: false }, y: { display: false } }
        }
    });
}

// Panel A heatmap
classBar(3, 44, 222, 4, heatAClassSizes, 42);
heatPanel(3, 49, 222, 296, heatALabels, heatARows, 42);
colorBar(258, 43, 5, 77, 3.2, heatAScaleTicks);
classLegend(270, 42, 26, 38, 6);

// Panel B heatmap
classBar(3, 433, 194, 4, heatBClassSizes, 45);
heatPanel(3, 438, 194, 260, heatBLabels, heatBRows, 45);
colorBar(224, 432, 4, 69, 2.5, heatBScaleTicks);
classLegend(234, 432, 26, 32, 5);

// Panel A bars
const plainA1 = { barPct: 0.94, catPct: 0.72, boxSize: 3, legendGap: 2, legendSize: 4.4, tickSize: 6, yTickSize: 6.4, titleSize: 5, yMax: 15, yStep: 5, errColor: "#888", errWidth: 0.7, cap: 1.3, sigSize: 3.8, barBorder: "transparent", barBorderWidth: 0 };
barPanel({ left: 299, plotLeft: 317, plotTop: 7, plotRight: 517, plotBottom: 97, legendLeft: 445, legendY: 3 }, a1Labels, [
    series(classNames[0], a1Ctrl, a1CtrlErr, a1CtrlSig, plainColors[0]),
    series(classNames[1], a1Pa, a1PaErr, a1PaSig, plainColors[1]),
    series(classNames[2], a1Oa, a1OaErr, a1OaSig, plainColors[2]),
    series(classNames[3], a1Tg, a1TgErr, null, plainColors[3]),
    series(classNames[4], a1Scd, a1ScdErr, a1ScdSig, plainColors[4])
], plainA1);

barPanel({ left: 295, plotLeft: 318, plotTop: 126, plotRight: 592, plotBottom: 228, legendLeft: 501, legendY: 129 }, a2Labels, [
    series(classNamesUpper[0], a2Ctrl, a2CtrlErr, null, plainColors[0]),
    series(classNamesUpper[1], a2Pa, a2PaErr, a2PaSig, plainColors[1]),
    series(classNamesUpper[2], a2Oa, a2OaErr, null, plainColors[2]),
    series(classNamesUpper[3], a2Tg, a2TgErr, a2TgSig, plainColors[3]),
    series(classNamesUpper[4], a2Scd, a2ScdErr, a2ScdSig, plainColors[4])
], { ...plainA1, barPct: 0.9, catPct: 0.82, legendSize: 4.6, legendGap: 1.6, yMax: 600, yStep: 100, titleSize: 5.4 });

barPanel({ left: 298, plotLeft: 313, plotTop: 258, plotRight: 682, plotBottom: 358, legendLeft: 618, legendY: 261 }, a3Labels, [
    series(classNamesUpper[0], a3Ctrl, a3CtrlErr, null, plainColors[0]),
    series(classNamesUpper[1], a3Pa, a3PaErr, a3PaSig, plainColors[1]),
    series(classNamesUpper[2], a3Oa, a3OaErr, null, plainColors[2]),
    series(classNamesUpper[3], a3Tg, a3TgErr, a3TgSig, plainColors[3]),
    series(classNamesUpper[4], a3Scd, a3ScdErr, a3ScdSig, plainColors[4])
], { ...plainA1, barPct: 0.92, catPct: 0.74, legendSize: 4, boxSize: 2.5, legendGap: 1.2, tickSize: 5.4, yMax: 50, yStep: 10, sigSize: 3.2 });

// Panel B bars
const hatchFills = [
    hatch("#cfe2f3", "#b8d0e8"),
    hatch("#f8cbad", "#efb08c"),
    hatch("#dcdcdc", "#9a9a9a"),
    hatch("#ffe699", "#f2d06f"),
    hatch("#b9cbe9", "#93acd8")
];
const hatchB1 = { barPct: 0.94, catPct: 0.72, boxSize: 2.5, legendGap: 1.2, legendSize: 3.8, tickSize: 5.6, yTickSize: 5.8, titleSize: 4.8, yMax: 3, yStep: 1, errColor: "#777", errWidth: 0.7, cap: 1.2, sigSize: 3.2, barBorder: "#555", barBorderWidth: 0.8 };

barPanel({ left: 259, plotLeft: 272, plotTop: 468, plotRight: 421, plotBottom: 551, legendLeft: 363, legendY: 471 }, b1Labels, [
    series(classNames[0], b1Ctrl, b1CtrlErr, null, hatchFills[0]),
    series(classNames[1], b1Pa, b1PaErr, b1PaSig, hatchFills[1]),
    series(classNames[2], b1Oa, b1OaErr, b1OaSig, hatchFills[2]),
    series(classNames[3], b1Tg, b1TgErr, null, hatchFills[3]),
    series(classNames[4], b1Scd, b1ScdErr, b1ScdSig, hatchFills[4])
], hatchB1);

barPanel({ left: 439, plotLeft: 458, plotTop: 466, plotRight: 603, plotBottom: 554, legendLeft: 547, legendY: 468 }, b2Labels, [
    series(classNames[0], b2Ctrl, b2CtrlErr, null, hatchFills[0]),
    series(classNames[1], b2Pa, b2PaErr, b2PaSig, hatchFills[1]),
    series(classNames[2], b2Oa, b2OaErr, b2OaSig, hatchFills[2]),
    series(classNames[3], b2Tg, b2TgErr, null, hatchFills[3]),
    series(classNames[4], b2Scd, b2ScdErr, null, hatchFills[4])
], { ...hatchB1, yMax: 600, yStep: 200 });

barPanel({ left: 256, plotLeft: 273, plotTop: 571, plotRight: 682, plotBottom: 661, legendLeft: 598, legendY: 569 }, b3Labels, [
    series(classNames[0], b3Ctrl, b3CtrlErr, null, hatchFills[0]),
    series(classNames[1], b3Pa, b3PaErr, b3PaSig, hatchFills[1]),
    series(classNames[2], b3Oa, b3OaErr, b3OaSig, hatchFills[2]),
    series(classNames[3], b3Tg, b3TgErr, b3TgSig, hatchFills[3]),
    series(classNames[4], b3Scd, b3ScdErr, null, hatchFills[4])
], { ...hatchB1, barPct: 0.9, catPct: 0.85, legendGap: 5, legendSize: 4, tickSize: 5, yMax: 40, yStep: 10, barBorderWidth: 0.6, cap: 0.9, sigSize: 3 });
</script>
</body>
</html>
